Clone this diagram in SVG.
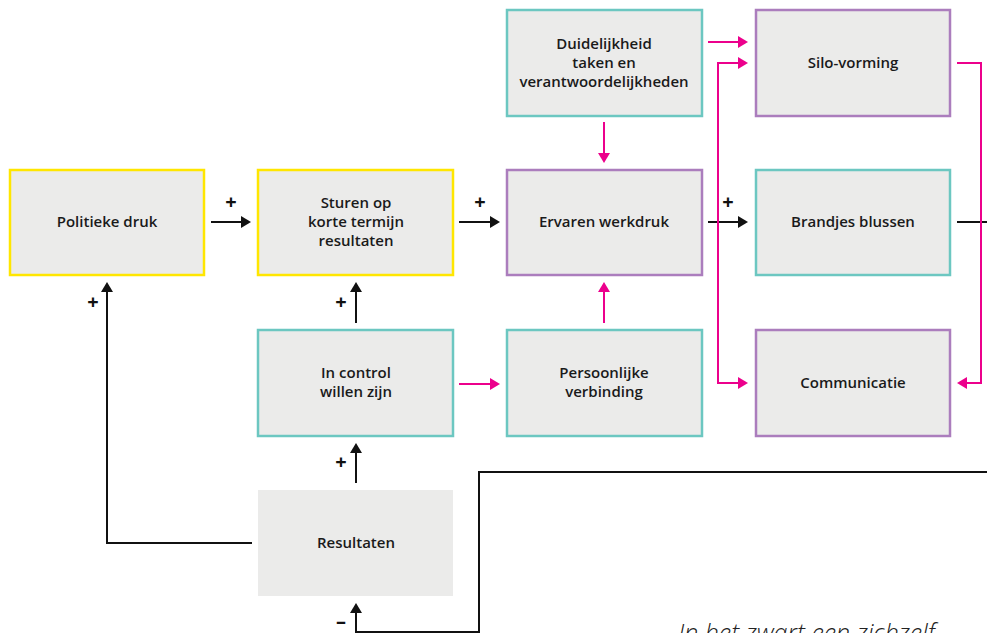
<svg xmlns="http://www.w3.org/2000/svg" width="987" height="633" viewBox="0 0 987 633">
<style>
.box{fill:#EBEBEA;stroke-width:2.5}
.y{stroke:#FFE600}
.t{stroke:#6CC7C1}
.p{stroke:#AB7DBD}
.lbl{font-family:"Open Sans","Liberation Sans",sans-serif;font-size:15px;font-weight:600;fill:#1a1a1a;text-anchor:middle}
.sgn{font-family:"Open Sans","Liberation Sans",sans-serif;font-size:20px;font-weight:700;fill:#111;text-anchor:middle}
.k{fill:none;stroke:#111;stroke-width:2}
.m{fill:none;stroke:#EC008C;stroke-width:2}
.note{font-family:"Open Sans","Liberation Sans",sans-serif;font-size:25px;font-weight:300;font-style:italic;fill:#222}
</style>
<defs>
<marker id="ak" markerUnits="userSpaceOnUse" markerWidth="10" markerHeight="12" refX="5" refY="6" orient="auto-start-reverse" viewBox="0 0 10 12"><path d="M0,0 L10,6 L0,12 z" fill="#111"/></marker>
<marker id="am" markerUnits="userSpaceOnUse" markerWidth="10" markerHeight="12" refX="5" refY="6" orient="auto-start-reverse" viewBox="0 0 10 12"><path d="M0,0 L10,6 L0,12 z" fill="#EC008C"/></marker>
</defs>
<rect width="987" height="633" fill="#fff"/>

<g id="connectors">
<path class="k" d="M211 222 H246" marker-end="url(#ak)"/>
<path class="k" d="M459 222 H495" marker-end="url(#ak)"/>
<path class="k" d="M708 222 H743" marker-end="url(#ak)"/>
<path class="k" d="M957 222 H987"/>
<path class="k" d="M356 323 V287" marker-end="url(#ak)"/>
<path class="k" d="M356 483 V448" marker-end="url(#ak)"/>
<path class="k" d="M252 543 H107 V287" marker-end="url(#ak)"/>
<path class="k" d="M987 472 H479 V632 H356 V608" marker-end="url(#ak)"/>
<path class="m" d="M708 42 H743" marker-end="url(#am)"/>
<path class="m" d="M604 122 V158" marker-end="url(#am)"/>
<path class="m" d="M604 323 V287" marker-end="url(#am)"/>
<path class="m" d="M459 384 H495" marker-end="url(#am)"/>
<path class="m" d="M743 63 H718 V383 H743" marker-start="url(#am)" marker-end="url(#am)"/>
<path class="m" d="M957 63 H981 V383 H962" marker-end="url(#am)"/>
<text class="sgn" x="231" y="209">+</text>
<text class="sgn" x="480" y="209">+</text>
<text class="sgn" x="728" y="209">+</text>
<text class="sgn" x="341" y="309">+</text>
<text class="sgn" x="341" y="469">+</text>
<text class="sgn" x="93" y="309">+</text>
<text class="sgn" x="341" y="628">–</text>
</g>

<g id="politieke-druk"><rect class="box y" x="10" y="170" width="194" height="105"/><text class="lbl" x="107" y="227">Politieke druk</text></g>
<g id="sturen"><rect class="box y" x="258" y="170" width="195" height="105"/><text class="lbl" x="356" y="208">Sturen op</text><text class="lbl" x="356" y="227">korte termijn</text><text class="lbl" x="356" y="246">resultaten</text></g>
<g id="ervaren-werkdruk"><rect class="box p" x="507" y="170" width="195" height="105"/><text class="lbl" x="604" y="227">Ervaren werkdruk</text></g>
<g id="duidelijkheid"><rect class="box t" x="507" y="10" width="195" height="106"/><text class="lbl" x="604" y="49">Duidelijkheid</text><text class="lbl" x="604" y="68">taken en</text><text class="lbl" x="604" y="87">verantwoordelijkheden</text></g>
<g id="silo-vorming"><rect class="box p" x="756" y="10" width="194" height="106"/><text class="lbl" x="853" y="68">Silo-vorming</text></g>
<g id="brandjes-blussen"><rect class="box t" x="756" y="170" width="194" height="105"/><text class="lbl" x="853" y="227">Brandjes blussen</text></g>
<g id="communicatie"><rect class="box p" x="756" y="330" width="194" height="106"/><text class="lbl" x="853" y="388">Communicatie</text></g>
<g id="in-control"><rect class="box t" x="258" y="330" width="195" height="106"/><text class="lbl" x="356" y="378">In control</text><text class="lbl" x="356" y="397">willen zijn</text></g>
<g id="persoonlijke-verbinding"><rect class="box t" x="507" y="330" width="195" height="106"/><text class="lbl" x="604" y="378">Persoonlijke</text><text class="lbl" x="604" y="397">verbinding</text></g>
<g id="resultaten"><rect x="258" y="490" width="195" height="106" fill="#EBEBEA"/><text class="lbl" x="356" y="548">Resultaten</text></g>

<text class="note" x="678" y="642">In het zwart een zichzelf</text>
</svg>
